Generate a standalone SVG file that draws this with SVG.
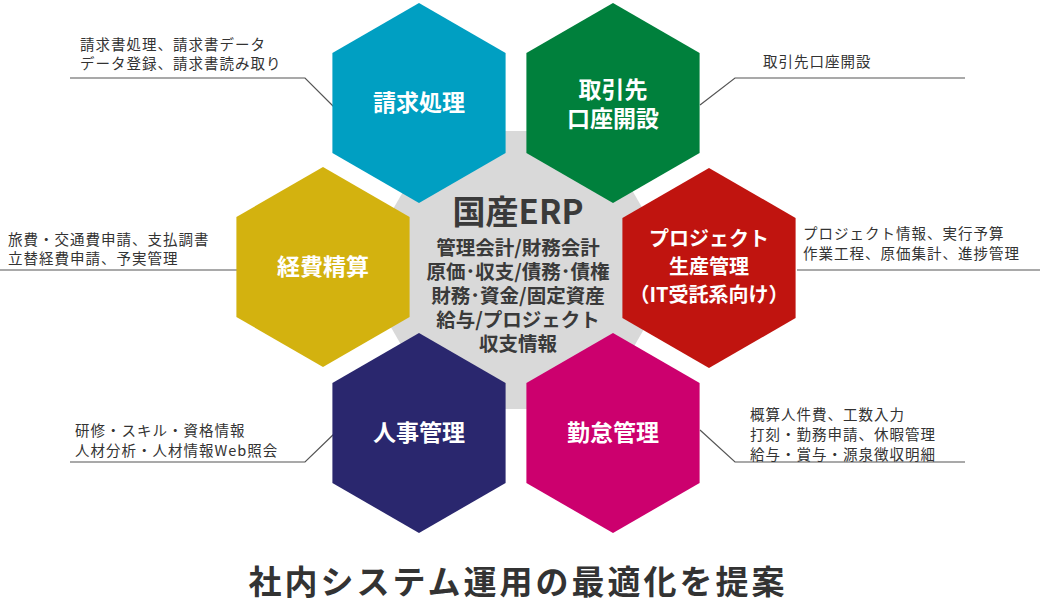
<svg xmlns="http://www.w3.org/2000/svg" width="1040" height="613" viewBox="0 0 1040 613">
<defs>
<style>
text{font-family:"Noto Sans CJK JP","Noto Sans",sans-serif}
.h{fill:#fff;font-size:23px;font-weight:bold;text-anchor:middle}
.n{fill:#333;font-size:14.5px;letter-spacing:1px}
.c{fill:#3a3a3a;font-size:19.5px;font-weight:bold;text-anchor:middle}
.l{fill:none;stroke:#555;stroke-width:1.2}
</style>
<polygon id="hx" points="0,-100 86.6,-50 86.6,50 0,100 -86.6,50 -86.6,-50"/>
</defs>
<rect width="1040" height="613" fill="#fff"/>
<g id="connectors">
<polyline class="l" points="335,108 305,78 70,78"/>
<polyline class="l" points="700,105 735,78 965,78"/>
<polyline class="l" points="0,270 237,270"/>
<polyline class="l" points="797,270 1040,270"/>
<polyline class="l" points="335,433 305,462 70,462"/>
<polyline class="l" points="700,430 735,462 965,462"/>
</g>
<g id="center">
<polygon points="678,270 598,131 438,131 358,270 438,409 598,409" fill="#d9d9d9"/>
</g>
<g id="n1"><use href="#hx" x="419" y="103" fill="#009fc2"/><text class="h" x="419" y="111">請求処理</text></g>
<g id="n2"><use href="#hx" x="613" y="103" fill="#00803c"/><text class="h" x="613" y="98">取引先</text><text class="h" x="613" y="127">口座開設</text></g>
<g id="n3"><use href="#hx" x="323" y="267" fill="#d3b20f"/><text class="h" x="323" y="275">経費精算</text></g>
<g id="n4"><use href="#hx" x="709" y="268" fill="#c0140f"/><text class="h" x="709" y="246" style="font-size:20px">プロジェクト</text><text class="h" x="709" y="274" style="font-size:20px">生産管理</text><text class="h" x="709" y="302" style="font-size:20px">（IT受託系向け）</text></g>
<g id="n5"><use href="#hx" x="419" y="433" fill="#2a276e"/><text class="h" x="419" y="441">人事管理</text></g>
<g id="n6"><use href="#hx" x="613" y="433" fill="#cc006e"/><text class="h" x="613" y="441">勤怠管理</text></g>
<g id="core">
<text class="c" x="518" y="224" style="font-size:33px">国産ERP</text>
<text class="c" x="518" y="255">管理会計/財務会計</text>
<text class="c" x="518" y="279">原価･収支/債務･債権</text>
<text class="c" x="518" y="303">財務･資金/固定資産</text>
<text class="c" x="518" y="327">給与/プロジェクト</text>
<text class="c" x="518" y="351">収支情報</text>
</g>
<g id="notes">
<text class="n" x="80" y="50">請求書処理、請求書データ</text>
<text class="n" x="80" y="69">データ登録、請求書読み取り</text>
<text class="n" x="763" y="67">取引先口座開設</text>
<text class="n" x="8" y="245">旅費・交通費申請、支払調書</text>
<text class="n" x="8" y="264">立替経費申請、予実管理</text>
<text class="n" x="803" y="239">プロジェクト情報、実行予算</text>
<text class="n" x="803" y="259">作業工程、原価集計、進捗管理</text>
<text class="n" x="75" y="436">研修・スキル・資格情報</text>
<text class="n" x="75" y="456">人材分析・人材情報Web照会</text>
<text class="n" x="750" y="420">概算人件費、工数入力</text>
<text class="n" x="750" y="440">打刻・勤務申請、休暇管理</text>
<text class="n" x="750" y="460">給与・賞与・源泉徴収明細</text>
</g>
<text x="518" y="594" style="font-size:33px;font-weight:bold;fill:#333;text-anchor:middle;letter-spacing:3px">社内システム運用の最適化を提案</text>
</svg>
